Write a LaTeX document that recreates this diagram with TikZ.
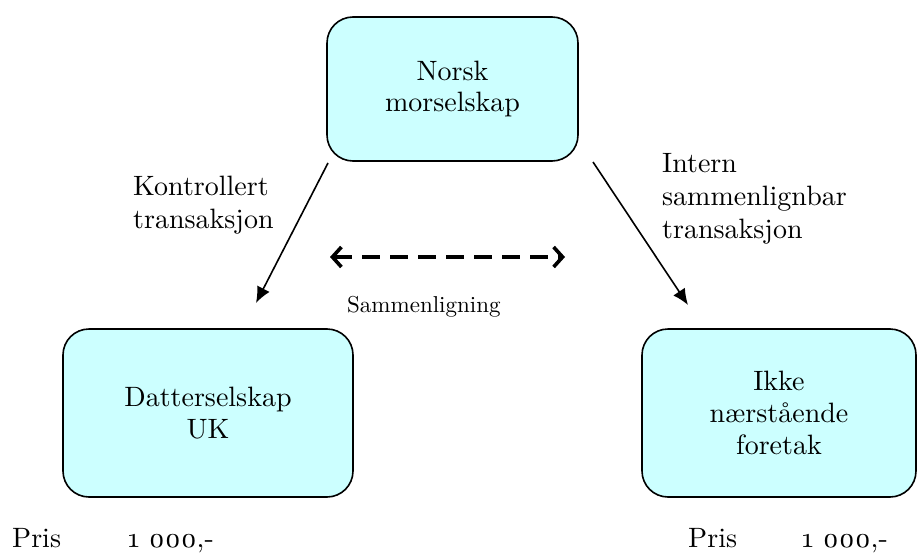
\documentclass[tikz,border=0pt]{standalone}
\usepackage{fontspec}
\setmainfont{lmroman10-regular}[Extension=.otf]
\usetikzlibrary{arrows.meta}
\definecolor{boxfill}{HTML}{CCFFFF}
\newcommand{\osnum}[1]{{\addfontfeature{Numbers=OldStyle}#1}}
\begin{document}
\begin{tikzpicture}[x=1pt,y=-1pt,
  entity/.style={draw=black,line width=1.6pt,fill=boxfill,rounded corners=26pt,
    align=center,font=\fontsize{28}{32}\selectfont,inner sep=0pt},
  label/.style={align=left,inner sep=0pt,font=\fontsize{28}{33}\selectfont},
  flow/.style={line width=1.6pt,-{Latex[length=16pt,width=14pt]}},
  compare/.style={line width=3.6pt,dash pattern=on 18pt off 10pt,
    {Straight Barb[length=9pt,width=20pt,line width=3.6pt]}-{Straight Barb[length=9pt,width=20pt,line width=3.6pt]}},
  price/.style={anchor=base west,inner sep=0pt,font=\fontsize{28}{33}\selectfont}]
\useasboundingbox (0,0) rectangle (917,559);

% entities
\node[entity,minimum width=251pt,minimum height=144pt] (parent) at (452.5,89) {Norsk\\morselskap};
\node[entity,minimum width=290pt,minimum height=168pt] (sub) at (208,413) {Datterselskap\\UK};
\node[entity,minimum width=274pt,minimum height=168pt] (indep) at (779,413) {Ikke\\nærstående\\foretak};

% transaction arrows
\coordinate (ctrlStart) at (328,163);
\coordinate (ctrlEnd) at (256,303);
\coordinate (intStart) at (593,162);
\coordinate (intEnd) at (688,305);
\draw[flow] (ctrlStart) -- (ctrlEnd);
\draw[flow] (intStart) -- (intEnd);

\node[label,anchor=north west] (ctrlLabel) at (133,176) {Kontrollert\\transaksjon};
\node[label,anchor=north west] (intLabel) at (662,153) {Intern\\sammenlignbar\\transaksjon};

% comparison
\coordinate (cmpL) at (330,257);
\coordinate (cmpR) at (565,257);
\draw[compare] (cmpL) -- (cmpR);
\node[anchor=base west,inner sep=0pt,font=\fontsize{23}{27}\selectfont] (cmpLabel) at (347,312) {Sammenligning};

% prices
\node[price] (prisL) at (12,547) {Pris};
\node[price] (numL) at (128,547) {\osnum{1 000,-}};
\node[price] (prisR) at (688,547) {Pris};
\node[price] (numR) at (802,547) {\osnum{1 000,-}};
\end{tikzpicture}
\end{document}
